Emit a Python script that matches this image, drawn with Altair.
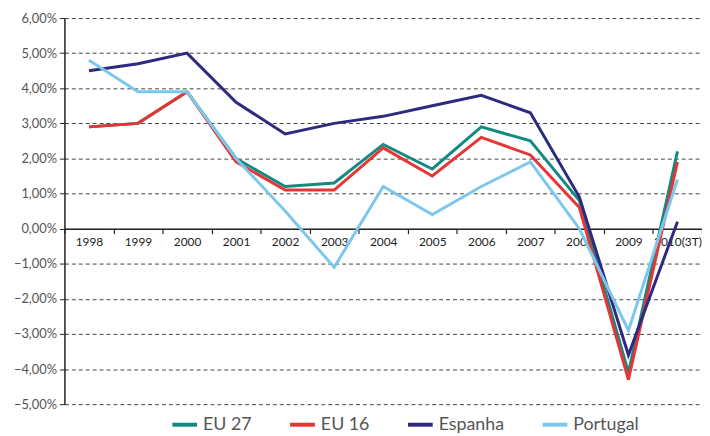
import altair as alt
import pandas as pd

years = ["1998", "1999", "2000", "2001", "2002", "2003", "2004", "2005",
         "2006", "2007", "2008", "2009", "2010(3T)"]
eu27 = [2.9, 3.0, 3.9, 2.0, 1.2, 1.3, 2.4, 1.7, 2.9, 2.5, 0.8, -4.1, 2.2]
eu16 = [2.9, 3.0, 3.9, 1.9, 1.1, 1.1, 2.3, 1.5, 2.6, 2.1, 0.6, -4.3, 1.9]
espanha = [4.5, 4.7, 5.0, 3.6, 2.7, 3.0, 3.2, 3.5, 3.8, 3.3, 0.9, -3.6, 0.2]
portugal = [4.8, 3.9, 3.9, 2.0, 0.5, -1.1, 1.2, 0.4, 1.2, 1.9, 0.0, -2.9, 1.4]

series_names = ["EU 27", "EU 16", "Espanha", "Portugal"]
series_colors = ["#138a80", "#e63535", "#2e2a7d", "#7cc7ee"]
series_values = [eu27, eu16, espanha, portugal]

rows = []
for name, vals in zip(series_names, series_values):
    for y, v in zip(years, vals):
        rows.append({"ano": y, "serie": name, "valor": v})
df = pd.DataFrame(rows)

W, H = 644, 390
ymin, ymax = -5, 6
zero_offset = -(H * (0 - ymin) / (ymax - ymin))

FONT = "Lato"

chart = alt.Chart(df).mark_line(strokeWidth=3).encode(
    x=alt.X("ano:N", sort=years,
            scale=alt.Scale(paddingInner=0, paddingOuter=0),
            axis=alt.Axis(title=None, labelAngle=0, offset=zero_offset,
                          tickBand="extent", tickSize=5, tickColor="#222",
                          domainColor="#222", domainWidth=1.5, tickWidth=1.2,
                          labelFont=FONT, labelFontSize=12, labelColor="#222",
                          labelPadding=3, grid=False, labelOverlap=False)),
    y=alt.Y("valor:Q",
            scale=alt.Scale(domain=[ymin, ymax], nice=False, zero=False),
            axis=alt.Axis(title=None, values=list(range(-5, 7)),
                          labelExpr="replace(format(datum.value, '.2f'), '.', ',') + '%'",
                          labelFont=FONT, labelFontSize=13, labelColor="#555",
                          tickSize=5, tickColor="#222", domainColor="#222",
                          domainWidth=1.5, grid=True, gridColor="#444",
                          gridDash=[4, 3], gridWidth=1, labelPadding=3)),
    color=alt.Color("serie:N",
                    scale=alt.Scale(domain=series_names, range=series_colors),
                    legend=alt.Legend(title=None, orient="none", direction="horizontal",
                                      legendX=107, legendY=396,
                                      symbolType="stroke", symbolStrokeWidth=4,
                                      symbolSize=625, labelFont=FONT,
                                      labelFontSize=18, labelColor="#555",
                                      columnPadding=30, labelOffset=4)),
).properties(
    width=W, height=H,
    autosize=alt.AutoSizeParams(type="none"),
    padding={"left": 57, "top": 8, "right": 0, "bottom": 30},
).configure_view(stroke=None)

chart.save("out.html", embed_options={"renderer": "svg", "actions": False})
